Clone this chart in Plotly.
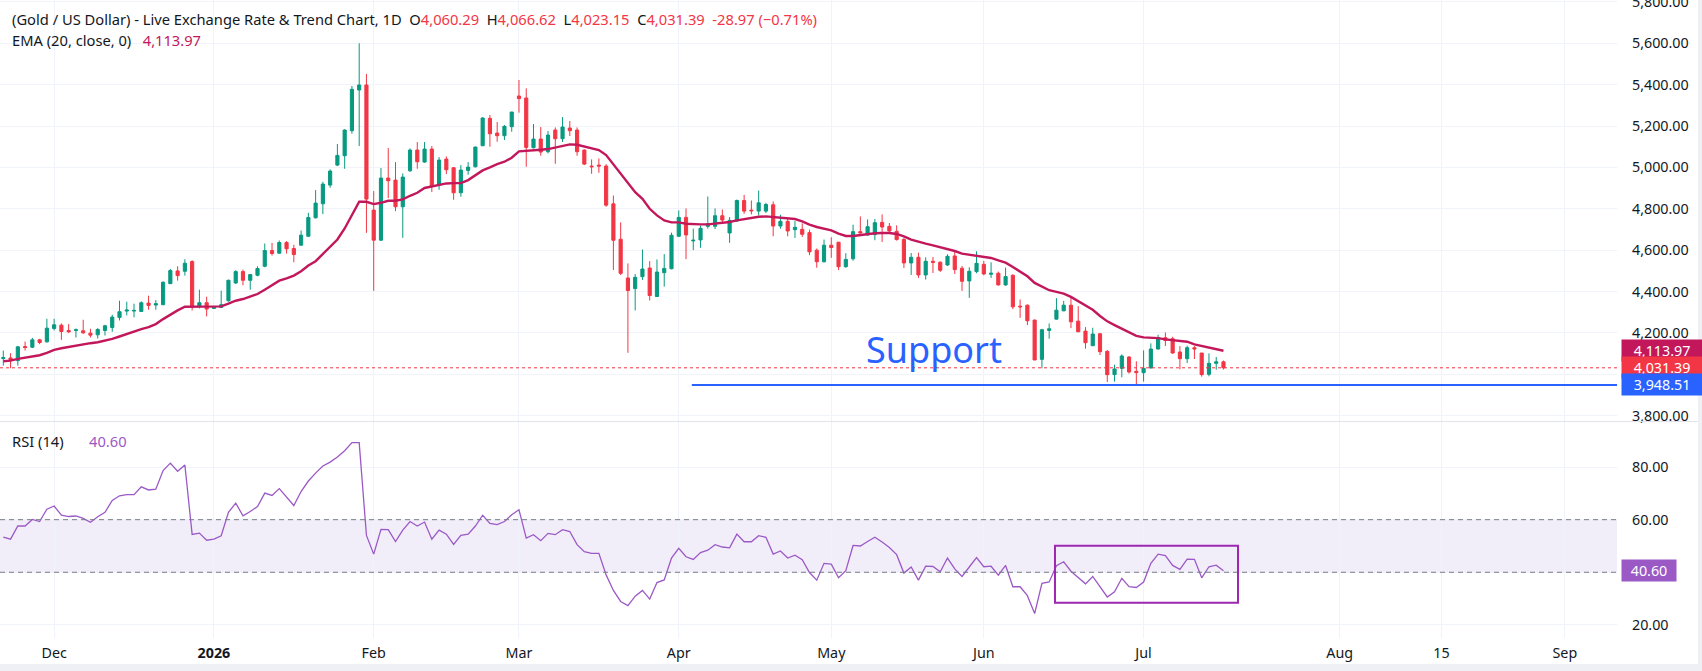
import pandas as pd
import plotly.graph_objects as go

# ---------------- data ----------------
holidays = ["2025-12-25", "2026-04-03"]
dates = [d for d in pd.bdate_range("2025-11-20", "2026-07-16") if d.strftime("%Y-%m-%d") not in holidays]

open_ = [4076.0, 4079.2, 4066.3, 4134.2, 4131.0, 4166.6, 4156.8, 4221.5, 4237.7, 4211.8,
         4211.8, 4210.2, 4198.9, 4190.8, 4211.8, 4226.4, 4274.9, 4305.6, 4305.6, 4304.0,
         4344.4, 4334.7, 4336.3, 4438.2, 4499.7, 4498.0, 4544.9, 4329.9, 4346.0, 4318.5,
         4323.4, 4355.7, 4441.4, 4496.4, 4454.4, 4478.6, 4522.3, 4598.3, 4585.4, 4637.1,
         4608.0, 4624.2, 4667.3, 4756.5, 4824.2, 4914.5, 5011.3, 5056.5, 5177.4, 5374.2,
         5398.4, 4793.6, 4648.4, 4948.4, 4938.7, 4809.7, 4983.9, 5083.9, 5025.8, 5088.7,
         4912.9, 5040.3, 4998.4, 4877.4, 4985.5, 5003.2, 5104.8, 5237.1, 5166.1, 5153.2,
         5196.8, 5345.2, 5335.5, 5095.2, 5137.1, 5075.8, 5180.6, 5138.7, 5190.3, 5180.6,
         5083.9, 5006.5, 5011.3, 5006.5, 4824.0, 4652.8, 4465.6, 4414.4, 4472.0, 4513.6,
         4376.0, 4491.2, 4510.4, 4667.2, 4758.4, 4644.8, 4649.6, 4715.2, 4715.2, 4766.4,
         4683.2, 4740.8, 4840.0, 4793.6, 4788.8, 4788.8, 4819.2, 4716.8, 4739.2, 4699.2,
         4700.8, 4684.8, 4600.0, 4544.0, 4624.0, 4638.4, 4520.0, 4558.4, 4689.6, 4673.6,
         4675.2, 4734.4, 4715.2, 4691.2, 4652.2, 4538.2, 4565.5, 4480.3, 4546.2, 4541.4,
         4528.5, 4571.9, 4512.5, 4451.4, 4496.4, 4531.7, 4483.5, 4488.4, 4432.1, 4478.7,
         4329.3, 4334.1, 4261.9, 4072.3, 4212.1, 4266.7, 4306.8, 4334.1, 4257.0, 4208.8,
         4138.2, 4196.0, 4110.9, 3998.4, 4028.9, 4083.5, 4014.5, 4008.0, 4030.5, 4122.1,
         4176.9, 4171.9, 4107.6, 4075.5, 4128.5, 4102.8, 4000.0, 4053.0, 4060.29]

high = [4114.8, 4101.9, 4137.4, 4158.5, 4176.3, 4171.4, 4268.4, 4268.4, 4245.8, 4242.6,
        4221.5, 4263.6, 4219.9, 4223.1, 4239.3, 4287.8, 4355.7, 4350.9, 4341.2, 4352.5,
        4380.0, 4359.0, 4449.5, 4509.4, 4522.3, 4556.2, 4551.4, 4409.1, 4375.1, 4328.3,
        4404.3, 4457.6, 4502.9, 4506.1, 4485.1, 4522.3, 4632.2, 4635.5, 4646.8, 4643.6,
        4625.8, 4695.3, 4780.6, 4890.3, 4930.6, 4990.3, 5112.9, 5183.9, 5393.5, 5600.0,
        5451.6, 4885.5, 4996.8, 5093.5, 5025.8, 4970.9, 5091.9, 5122.6, 5122.6, 5103.2,
        5050.0, 5053.2, 5001.6, 5011.3, 5025.8, 5100.0, 5241.9, 5253.2, 5219.4, 5204.8,
        5267.7, 5422.6, 5382.3, 5209.7, 5195.2, 5175.8, 5193.5, 5243.5, 5224.2, 5193.5,
        5087.1, 5038.7, 5043.5, 5016.1, 4864.0, 4734.4, 4536.0, 4484.8, 4603.2, 4547.2,
        4555.2, 4580.8, 4684.8, 4792.0, 4801.6, 4704.0, 4718.4, 4859.2, 4801.6, 4796.8,
        4760.0, 4844.8, 4867.2, 4840.0, 4888.0, 4828.8, 4835.2, 4771.2, 4752.0, 4740.8,
        4729.6, 4699.2, 4608.0, 4651.2, 4662.4, 4640.0, 4585.6, 4723.2, 4763.2, 4748.8,
        4750.4, 4772.8, 4731.2, 4720.0, 4660.2, 4586.3, 4587.9, 4565.5, 4567.1, 4546.2,
        4579.9, 4591.2, 4523.7, 4517.3, 4594.4, 4547.8, 4541.4, 4496.4, 4515.7, 4483.5,
        4361.5, 4337.4, 4265.1, 4220.1, 4245.8, 4367.9, 4355.0, 4377.5, 4329.3, 4228.1,
        4224.9, 4199.2, 4117.3, 4046.6, 4096.4, 4088.4, 4062.7, 4115.7, 4149.4, 4191.2,
        4202.4, 4181.5, 4136.6, 4138.2, 4136.6, 4102.8, 4101.2, 4083.5, 4066.62]

low = [4042.0, 4029.1, 4042.0, 4114.8, 4127.7, 4145.5, 4153.6, 4211.8, 4166.6, 4198.9,
       4177.9, 4195.7, 4177.9, 4173.0, 4187.6, 4205.4, 4260.3, 4284.6, 4274.9, 4300.8,
       4312.1, 4312.1, 4336.3, 4436.6, 4452.8, 4477.0, 4308.8, 4318.5, 4279.7, 4316.9,
       4320.2, 4350.9, 4436.6, 4430.1, 4409.1, 4473.8, 4517.4, 4574.0, 4583.7, 4583.7,
       4541.7, 4622.5, 4664.5, 4753.2, 4774.2, 4901.6, 5006.5, 4993.5, 5162.9, 5103.2,
       4683.9, 4403.2, 4645.2, 4851.6, 4788.7, 4659.7, 4979.0, 4993.5, 5022.6, 4880.6,
       4891.9, 4967.7, 4843.5, 4858.1, 4964.5, 5000.0, 5103.2, 5100.0, 5124.2, 5132.3,
       5172.6, 5264.5, 5003.2, 5091.9, 5056.5, 5067.7, 5017.7, 5122.6, 5151.6, 5056.5,
       5011.3, 4969.4, 4974.2, 4809.7, 4504.0, 4480.0, 4104.0, 4308.8, 4456.0, 4356.8,
       4376.0, 4424.0, 4507.2, 4664.0, 4556.8, 4600.0, 4611.2, 4704.0, 4702.4, 4731.2,
       4635.2, 4737.6, 4776.0, 4772.8, 4768.0, 4779.2, 4667.2, 4704.0, 4667.2, 4659.2,
       4664.0, 4576.0, 4515.2, 4540.8, 4563.2, 4504.0, 4515.2, 4548.8, 4680.0, 4670.4,
       4648.0, 4640.0, 4680.0, 4646.4, 4514.1, 4480.3, 4465.9, 4457.8, 4489.8, 4494.8,
       4523.7, 4485.1, 4403.2, 4369.5, 4488.4, 4478.7, 4465.9, 4428.9, 4427.3, 4314.9,
       4273.1, 4237.8, 4069.1, 4028.9, 4171.9, 4265.1, 4305.2, 4223.3, 4204.0, 4123.7,
       4136.6, 4093.2, 3963.1, 3964.7, 3985.6, 4003.2, 3947.0, 3964.7, 4028.9, 4120.5,
       4136.6, 4099.6, 4024.1, 4054.6, 4073.9, 3988.8, 3990.4, 4022.5, 4023.15]

close = [4080.9, 4066.3, 4132.6, 4129.4, 4166.6, 4153.6, 4223.1, 4239.3, 4207.0, 4205.4,
         4215.1, 4200.5, 4189.2, 4216.7, 4234.5, 4276.5, 4302.4, 4310.5, 4308.8, 4346.0,
         4333.1, 4341.2, 4444.7, 4501.3, 4477.0, 4536.8, 4325.0, 4346.0, 4315.3, 4323.4,
         4336.3, 4454.4, 4496.4, 4454.4, 4481.9, 4511.0, 4598.3, 4583.7, 4637.1, 4606.4,
         4578.9, 4672.6, 4758.1, 4827.4, 4919.4, 4982.3, 5058.1, 5180.6, 5377.4, 5398.4,
         4846.8, 4648.4, 4948.4, 4935.5, 4809.7, 4953.2, 5083.9, 5027.4, 5088.7, 4909.7,
         5035.5, 4988.7, 4877.4, 4987.1, 5001.6, 5098.4, 5238.7, 5162.9, 5153.2, 5198.4,
         5267.7, 5332.3, 5096.8, 5137.1, 5074.2, 5156.5, 5138.7, 5195.2, 5177.4, 5075.8,
         5016.1, 5003.2, 5006.5, 4817.7, 4648.0, 4488.0, 4404.8, 4468.8, 4508.8, 4380.8,
         4494.4, 4512.0, 4672.0, 4758.4, 4673.6, 4648.0, 4705.6, 4728.0, 4766.4, 4745.6,
         4744.0, 4840.0, 4788.8, 4790.4, 4828.8, 4820.8, 4716.8, 4739.2, 4692.8, 4710.4,
         4676.8, 4592.0, 4544.0, 4624.0, 4612.8, 4520.0, 4555.2, 4689.6, 4683.2, 4713.6,
         4732.8, 4712.0, 4692.8, 4651.2, 4538.2, 4565.5, 4480.3, 4546.2, 4541.4, 4502.8,
         4570.3, 4506.0, 4449.8, 4498.0, 4536.6, 4485.1, 4488.4, 4432.1, 4472.3, 4326.1,
         4326.1, 4258.6, 4069.1, 4215.3, 4220.1, 4310.0, 4334.1, 4253.8, 4205.6, 4152.6,
         4194.5, 4109.3, 3998.4, 4025.7, 4088.4, 4011.2, 4008.0, 4028.9, 4122.1, 4176.9,
         4163.9, 4102.8, 4075.5, 4128.5, 4122.1, 3998.4, 4053.0, 4060.36, 4031.39]

ema20 = [4063.1, 4066.3, 4074.4, 4080.9, 4087.3, 4092.2, 4103.5, 4118.0, 4126.1, 4132.6,
         4140.7, 4147.1, 4150.4, 4155.2, 4161.7, 4171.4, 4182.7, 4195.7, 4207.0, 4218.3,
         4228.0, 4242.6, 4266.8, 4289.4, 4308.8, 4326.6, 4326.6, 4326.6, 4325.0, 4325.0,
         4328.3, 4341.2, 4355.7, 4363.8, 4375.1, 4388.1, 4409.1, 4430.1, 4452.8, 4464.1,
         4477.0, 4498.0, 4525.5, 4546.8, 4580.7, 4612.9, 4651.6, 4704.8, 4769.4, 4833.9,
         4833.9, 4822.6, 4829.0, 4838.7, 4838.7, 4845.2, 4862.9, 4877.4, 4900.5, 4907.7,
         4912.9, 4922.6, 4924.2, 4924.2, 4938.7, 4961.3, 4985.5, 5000.0, 5016.1, 5027.4,
         5046.8, 5077.4, 5079.0, 5080.6, 5085.5, 5088.7, 5096.8, 5104.8, 5111.3, 5109.7,
         5100.0, 5093.5, 5083.9, 5059.7, 5014.8, 4968.0, 4923.2, 4880.0, 4848.0, 4800.0,
         4768.0, 4744.0, 4734.4, 4734.4, 4728.0, 4724.8, 4724.8, 4724.8, 4728.0, 4731.2,
         4736.0, 4744.0, 4750.4, 4756.8, 4761.6, 4763.2, 4760.0, 4756.8, 4753.6, 4750.4,
         4739.2, 4723.2, 4712.0, 4705.6, 4696.0, 4680.0, 4668.8, 4668.8, 4673.6, 4678.4,
         4681.6, 4683.2, 4683.2, 4678.4, 4666.7, 4650.6, 4639.4, 4631.3, 4623.3, 4615.3,
         4607.2, 4596.0, 4583.1, 4578.3, 4573.5, 4570.3, 4562.3, 4551.0, 4539.8, 4518.9,
         4496.4, 4473.9, 4441.8, 4422.5, 4406.4, 4398.4, 4390.4, 4374.3, 4353.4, 4334.1,
         4312.0, 4282.0, 4256.0, 4238.0, 4220.0, 4200.0, 4186.0, 4178.3, 4176.7, 4175.1,
         4168.7, 4163.9, 4160.7, 4157.5, 4144.6, 4136.6, 4128.5, 4122.1, 4113.97]

rsi14 = [53.4, 52.6, 57.6, 57.6, 60.1, 59.3, 64.0, 65.2, 61.7, 61.2,
         61.4, 60.5, 59.0, 61.1, 62.8, 67.3, 69.1, 69.5, 69.5, 72.5,
         71.3, 71.6, 78.7, 81.5, 78.4, 80.8, 54.4, 54.9, 52.2, 52.6,
         53.9, 62.8, 66.3, 61.5, 63.1, 65.0, 70.1, 69.2, 71.8, 68.5,
         65.4, 70.7, 74.7, 77.7, 80.4, 81.9, 83.8, 86.2, 89.3, 89.3,
         54.0, 46.9, 56.3, 56.2, 51.7, 56.0, 59.3, 57.6, 59.1, 52.6,
         56.0, 54.5, 50.6, 54.0, 54.5, 57.6, 61.7, 58.6, 58.1, 59.3,
         61.9, 63.8, 53.0, 54.3, 52.0, 54.8, 54.3, 56.2, 55.5, 50.5,
         47.8, 47.2, 47.2, 39.0, 33.1, 28.9, 27.3, 30.9, 33.1, 29.8,
         36.1, 37.1, 45.4, 49.1, 45.9, 44.9, 47.5, 48.4, 50.5, 49.6,
         49.3, 54.5, 51.6, 51.6, 53.9, 53.3, 46.9, 48.1, 45.4, 46.5,
         44.8, 39.9, 37.0, 43.4, 43.1, 37.9, 40.6, 50.2, 50.0, 51.7,
         53.3, 51.5, 49.4, 46.7, 39.7, 42.0, 37.0, 42.3, 42.2, 40.2,
         45.4, 41.3, 38.4, 42.0, 45.6, 42.1, 42.3, 38.9, 42.6, 34.5,
         34.5, 31.1, 24.3, 35.8, 36.3, 42.5, 44.0, 40.4, 37.9, 35.6,
         38.4, 34.4, 30.6, 32.6, 37.7, 34.5, 34.2, 36.3, 43.4, 46.9,
         46.3, 42.6, 41.1, 45.0, 44.9, 37.9, 42.1, 42.7, 40.60]

support_level = 3948.51
support_start_date = "2026-04-06"
support_text_date = "2026-05-21"
support_text_level = 4122
box_start_date = "2026-06-15"
box_end_date = "2026-07-18"
box_rsi_low, box_rsi_high = 28.4, 50.1

tick_dates = ["2025-12-01", "2026-01-01", "2026-02-01", "2026-03-01", "2026-04-01", "2026-05-01",
              "2026-06-01", "2026-07-01", "2026-08-01", "2026-08-15", "2026-09-01"]
tick_text = ["Dec", "<b>2026</b>", "Feb", "Mar", "Apr", "May", "Jun", "Jul", "Aug", "15", "Sep"]

price_ticks = list(range(3800, 6000, 200))
price_hidden = [4000]          # tick labels covered by the value labels
rsi_ticks = [20, 40, 60, 80]
rsi_hidden = [40]

# ---------------- helpers ----------------
idx = list(range(len(dates)))


def pos(dstr):
    d = pd.Timestamp(dstr)
    if d <= dates[-1]:
        return next(i for i, dd in enumerate(dates) if dd >= d)
    return len(dates) - 1 + (d - dates[-1]).days


GREEN, RED = "#089981", "#f23645"
EMA_C, RSI_C, BLUE, BOXC = "#c2185b", "#9b59c6", "#2962ff", "#9c27b0"
GRID = "#f0f3fa"
TXT = "#131722"
FONT = "Noto Sans"
LEG_SIZE = 14.7
AX_SIZE = 14.3

W, H = 1702, 671
PLOT_R = 1617
SEP = 421
RSI_BOT = 638
BAR = 7.263
X0 = 3.3
xr = [-X0 / BAR, (PLOT_R - X0) / BAR]
xdom = [0, PLOT_R / W]
price_range = [3774.3, 5809.2]
rsi_range = [15.0, 97.15]

tv = [pos(d) for d in tick_dates]

fig = go.Figure()
fig.add_trace(go.Candlestick(
    x=idx, open=open_, high=high, low=low, close=close,
    increasing=dict(line=dict(color=GREEN, width=1), fillcolor=GREEN),
    decreasing=dict(line=dict(color=RED, width=1), fillcolor=RED),
    whiskerwidth=0, xaxis="x2", yaxis="y", hoverinfo="skip"))
fig.add_trace(go.Scatter(x=idx, y=ema20, mode="lines", line=dict(color=EMA_C, width=2.4),
                         xaxis="x2", yaxis="y", hoverinfo="skip"))
fig.add_trace(go.Scatter(x=idx, y=rsi14, mode="lines", line=dict(color=RSI_C, width=1.3),
                         xaxis="x", yaxis="y2", hoverinfo="skip"))

axis_common = dict(showgrid=True, gridcolor=GRID, gridwidth=1, zeroline=False, showline=False,
                   ticks="", automargin=False)
fig.update_layout(
    width=W, height=H, margin=dict(l=0, r=0, t=0, b=0, autoexpand=False),
    paper_bgcolor="white", plot_bgcolor="white", showlegend=False, boxgap=0.38,
    font=dict(family=FONT, size=AX_SIZE, color=TXT),
    xaxis=dict(domain=xdom, anchor="y2", range=xr, tickvals=tv, ticktext=tick_text,
               ticklabelstandoff=5, rangeslider=dict(visible=False), **axis_common),
    xaxis2=dict(domain=xdom, anchor="y", matches="x", tickvals=tv, showticklabels=False,
                rangeslider=dict(visible=False), **axis_common),
    yaxis=dict(domain=[1 - SEP / H, 1], anchor="x2", side="right", range=price_range,
               tickvals=price_ticks,
               ticktext=["" if v in price_hidden else f"{v:,.2f}" for v in price_ticks],
               ticklabelstandoff=14, ticklabeloverflow="allow", **axis_common),
    yaxis2=dict(domain=[1 - RSI_BOT / H, 1 - (SEP + 1) / H], anchor="x", side="right", range=rsi_range,
                tickvals=rsi_ticks,
                ticktext=["" if v in rsi_hidden else f"{v:.2f}" for v in rsi_ticks],
                ticklabelstandoff=14, **axis_common),
)

shapes = []
# RSI band and its dashed bounds
shapes.append(dict(type="rect", xref="x", yref="y2", x0=xr[0], x1=xr[1], y0=40, y1=60,
                   fillcolor="rgba(126,87,194,0.1)", line=dict(width=0), layer="below"))
for lv in (40, 60):
    shapes.append(dict(type="line", xref="x", yref="y2", x0=xr[0], x1=xr[1], y0=lv, y1=lv,
                       line=dict(color="#787b86", width=1, dash="5px,4px")))
# close price dotted line
shapes.append(dict(type="line", xref="paper", yref="y", x0=0, x1=PLOT_R / W, y0=close[-1], y1=close[-1],
                   line=dict(color=RED, width=1, dash="dot")))
# support line
shapes.append(dict(type="line", xref="x2", yref="y", x0=pos(support_start_date) - 0.2, x1=xr[1],
                   y0=support_level, y1=support_level, line=dict(color=BLUE, width=2)))
# RSI rectangle
shapes.append(dict(type="rect", xref="x", yref="y2", x0=pos(box_start_date) - 0.2, x1=pos(box_end_date),
                   y0=box_rsi_low, y1=box_rsi_high, line=dict(color=BOXC, width=2)))
# pane separator and frame
shapes.append(dict(type="line", xref="paper", yref="paper", x0=0, x1=1, y0=1 - (SEP + 0.5) / H,
                   y1=1 - (SEP + 0.5) / H, line=dict(color="#e0e3eb", width=1)))
shapes.append(dict(type="rect", xref="paper", yref="paper", x0=0, x1=1, y0=0, y1=7 / H,
                   fillcolor="#eef0f6", line=dict(width=0)))
shapes.append(dict(type="rect", xref="paper", yref="paper", x0=1 - 4 / W, x1=1, y0=0, y1=1,
                   fillcolor="#eef0f6", line=dict(width=0)))
fig.update_layout(shapes=shapes)

# "Support" drawing text
fig.add_annotation(xref="x2", yref="y", x=pos(support_text_date) + 0.2, y=support_text_level,
                   text="Support", showarrow=False, font=dict(family=FONT, size=36, color=BLUE),
                   xanchor="center", yanchor="middle")


def fmt(v):
    return f"{v:,.2f}"


# axis value labels
def axis_label(val, yref, bg, text, width):
    fig.add_annotation(xref="paper", x=1621 / W, xanchor="left", yref=yref, y=val, yanchor="middle",
                       text=text, showarrow=False, bgcolor=bg, width=width, height=17, borderpad=2,
                       align="center", font=dict(family=FONT, size=AX_SIZE, color="white"))


axis_label(ema20[-1], "y", EMA_C, fmt(ema20[-1]), 76)
axis_label(close[-1], "y", RED, fmt(close[-1]), 76)
axis_label(support_level, "y", BLUE, fmt(support_level), 76)
axis_label(rsi14[-1], "y2", RSI_C, f"{rsi14[-1]:.2f}", 50)

# legends
o, h, l, c = open_[-1], high[-1], low[-1], close[-1]
chg = c - close[-2]
pct = chg / close[-2] * 100
sp = lambda t: f"<span style='color:{RED}'>{t}</span>"
line1 = ("(Gold / US Dollar) - Live Exchange Rate &amp; Trend Chart, 1D&nbsp;&nbsp;"
         f"O{sp(fmt(o))}&nbsp;&nbsp;H{sp(fmt(h))}&nbsp;&nbsp;L{sp(fmt(l))}&nbsp;&nbsp;C{sp(fmt(c))}&nbsp;&nbsp;"
         + sp(f"{chg:.2f} (\u2212{abs(pct):.2f}%)"))
line2 = f"EMA (20, close, 0)&nbsp;&nbsp;&nbsp;<span style='color:{EMA_C}'>{fmt(ema20[-1])}</span>"
legend_items = [
    (line1, 10, 19, TXT),
    (line2, 10, 40, TXT),
    ("RSI (14)", 10, 441, TXT),
    (f"{rsi14[-1]:.2f}", 87, 441, RSI_C),
]
for txt, xpx, ypx, col in legend_items:
    fig.add_annotation(xref="paper", yref="paper", x=xpx / W, y=1 - ypx / H, xanchor="left", yanchor="middle",
                       text=txt, showarrow=False, font=dict(family=FONT, size=LEG_SIZE, color=col),
                       align="left")

fig.write_html("out.html")
